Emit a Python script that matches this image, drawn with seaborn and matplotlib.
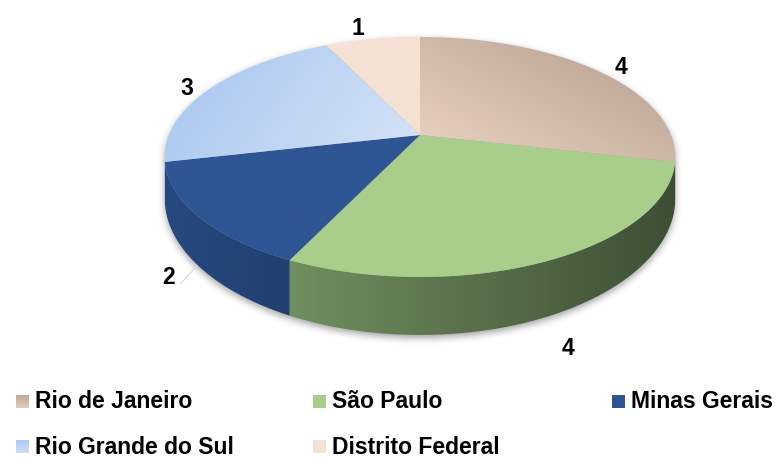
import numpy as np
import matplotlib
matplotlib.use("Agg")
import matplotlib.pyplot as plt
from matplotlib.path import Path
from matplotlib.patches import PathPatch
from matplotlib.colors import LinearSegmentedColormap
import seaborn as sns

# Data
states = ["Rio de Janeiro", "São Paulo", "Minas Gerais", "Rio Grande do Sul", "Distrito Federal"]
counts = [4, 4, 2, 3, 1]

# Styles: (top colour A, top colour B, gradient angle in degrees) and side colours (left, right)
top_styles = [("#ecd5c5", "#b19b8a", 62),
              ("#a9ce8b", "#a9ce8b", 0),
              ("#2e5594", "#2e5594", 0),
              ("#a6c5ef", "#d6e4f7", -35),
              ("#f6e2d5", "#f6e2d5", 0)]
side_styles = [("#b8a090", "#a8907f"),
               ("#718f60", "#3d4e34"),
               ("#27497f", "#21406f"),
               ("#8fb0de", "#8fb0de"),
               ("#e0c8b8", "#e0c8b8")]
legend_styles = [("#ead3c3", "#b8a291"), ("#a9ce8b", "#a9ce8b"), ("#2e5594", "#2e5594"),
                 ("#d3e2f6", "#a9c7ef"), ("#f6e2d5", "#f6e2d5")]
# Per-label nudges (dx, dy) in pixels
label_nudge = [(6, 4), (-2, 14), (1, 0), (-1, 5), (-10, -1)]

sns.set_theme(style="white")
plt.rcParams["font.family"] = ["Liberation Sans", "DejaVu Sans"]
plt.rcParams["text.color"] = "black"

W, H = 781, 459
fig = plt.figure(figsize=(W / 100, H / 100), dpi=100)
ax = fig.add_axes([0, 0, 1, 1])
ax.set_xlim(0, W)
ax.set_ylim(H, 0)
ax.axis("off")

# Perspective disc projection
CX, CY = 420.0, 135.0
RX, RY = 251.0, 116.0
K = 0.183
D0 = 38.7


def rim(theta, r=1.0):
    u = r * np.cos(theta)
    v = r * np.sin(theta)
    den = 1 + K * v
    return CX + RX * u / den, CY - RY * v / den


def depth(theta):
    return D0 / (1 + K * np.sin(theta)) ** 2


def grad_fill(patch, c0, c1, angle_deg, zorder):
    ext = patch.get_path().get_extents()
    x0, y0, x1, y1 = ext.x0 - 2, ext.y0 - 2, ext.x1 + 2, ext.y1 + 2
    xs = np.linspace(x0, x1, 200)
    ys = np.linspace(y0, y1, 200)
    X, Y = np.meshgrid(xs, ys)
    a = np.deg2rad(angle_deg)
    proj = (X - x0) * np.cos(a) - (Y - y0) * np.sin(a)
    proj = (proj - proj.min()) / max(proj.max() - proj.min(), 1e-9)
    cmap = LinearSegmentedColormap.from_list("g", [c0, c1])
    im = ax.imshow(proj, cmap=cmap, extent=(x0, x1, y0, y1), origin="lower",
                   interpolation="bilinear", zorder=zorder, aspect="auto")
    im.set_clip_path(patch)


fracs = np.array(counts, dtype=float) / sum(counts)
ends = np.pi / 2 - 2 * np.pi * np.cumsum(fracs)
starts = np.concatenate([[np.pi / 2], ends[:-1]])

# Soft shadow under the disc
lo, hi = -np.pi + np.arcsin(K), -np.arcsin(K)
t_top = np.linspace(0, 2 * np.pi, 400)
tx, ty = rim(t_top)
t_front = np.linspace(lo, hi, 300)
fx, fy = rim(t_front)
fy2 = fy + depth(t_front)
sil_x = np.concatenate([fx, fx[::-1]])
sil_y = np.concatenate([fy, fy2[::-1]])
gx, gy = np.meshgrid(np.arange(W), np.arange(H))
pts = np.column_stack([gx.ravel() + 0.5, gy.ravel() + 0.5])
mask = Path(np.column_stack([tx, ty])).contains_points(pts) | \
    Path(np.column_stack([sil_x, sil_y])).contains_points(pts)
mask = mask.reshape(H, W).astype(float)


def box_blur(img, r):
    out = img
    for axis in (0, 1):
        pad = [(0, 0), (0, 0)]
        pad[axis] = (r + 1, r)
        p = np.pad(out, pad, mode="edge")
        c = np.cumsum(p, axis=axis)
        if axis == 0:
            out = (c[2 * r + 1:, :] - c[:-2 * r - 1, :]) / (2 * r + 1)
        else:
            out = (c[:, 2 * r + 1:] - c[:, :-2 * r - 1]) / (2 * r + 1)
    return out


shadow = mask
for _ in range(3):
    shadow = box_blur(shadow, 3)
shadow = np.roll(shadow, 3, axis=0)
rgba = np.zeros((H, W, 4))
rgba[..., :3] = 0.40
rgba[..., 3] = shadow * 0.6
ax.imshow(rgba, extent=(0, W, H, 0), origin="upper", zorder=0, aspect="auto")

# Side walls
for i in range(len(counts)):
    a_hi, a_lo = starts[i], ends[i]
    for shift in (0, -2 * np.pi):
        s_lo = max(a_lo + shift, lo)
        s_hi = min(a_hi + shift, hi)
        if s_hi <= s_lo:
            continue
        t = np.linspace(s_lo, s_hi, 120)
        x, y = rim(t)
        yb = y + depth(t)
        verts = np.concatenate([np.column_stack([x, y]), np.column_stack([x[::-1], yb[::-1]])])
        patch = PathPatch(Path(np.vstack([verts, verts[:1]]), closed=True),
                          facecolor="none", edgecolor="none", zorder=2)
        ax.add_patch(patch)
        grad_fill(patch, side_styles[i][0], side_styles[i][1], 0, zorder=2)

# Top faces
for i in range(len(counts)):
    t = np.linspace(starts[i], ends[i], 200)
    x, y = rim(t)
    verts = np.vstack([[CX, CY], np.column_stack([x, y]), [CX, CY]])
    patch = PathPatch(Path(verts, closed=True), facecolor="none", edgecolor="none", zorder=3)
    ax.add_patch(patch)
    c0, c1, ang = top_styles[i]
    grad_fill(patch, c0, c1, ang, zorder=3)

# Value labels
label_font = dict(fontsize=16.5, fontweight="bold", color="black", ha="center", va="center")
mids = (starts + ends) / 2
for i, val in enumerate(counts):
    m = mids[i]
    lx, ly = rim(m, 1.12)
    if np.sin(m) < 0:
        ly += depth(m)
    lx += label_nudge[i][0]
    ly += label_nudge[i][1]
    ax.text(lx, ly, f"{val}", zorder=5, **label_font)
    if states[i] == "Minas Gerais":
        ex, ey = rim(m, 1.0)
        ax.plot([lx + 12, ex + 2], [ly + 6, ey + depth(m) - 4], color="#d9d9d9", lw=0.8, zorder=1)

# Legend
legend_pos = [(16, 402), (313, 402), (612, 402), (16, 447), (313, 447)]
for (px, py), name, (c0, c1) in zip(legend_pos, states, legend_styles):
    sq_verts = [(px, py - 7), (px + 13, py - 7), (px + 13, py + 6), (px, py + 6), (px, py - 7)]
    sq = PathPatch(Path(sq_verts, closed=True), facecolor="none", edgecolor="none", zorder=5)
    ax.add_patch(sq)
    grad_fill(sq, c0, c1, 90, zorder=5)
    ax.text(px + 19, py, name, fontsize=16.5, fontweight="bold", color="black",
            ha="left", va="center", zorder=5)

fig.savefig("out.png", dpi=100)
